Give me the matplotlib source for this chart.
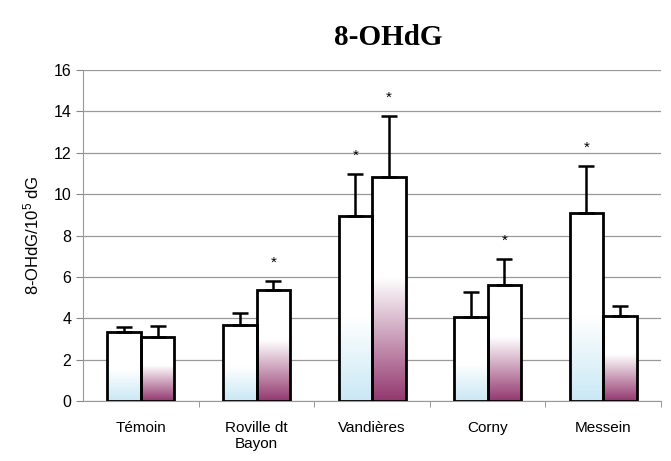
import matplotlib
matplotlib.use("Agg")
import matplotlib.pyplot as plt
import numpy as np
from matplotlib.colors import to_rgb

plt.rcParams["font.family"] = ["Liberation Sans", "DejaVu Sans"]
plt.rcParams["mathtext.fontset"] = "custom"
plt.rcParams["mathtext.rm"] = "Liberation Sans"
plt.rcParams["mathtext.it"] = "Liberation Sans"

sites = ["Témoin", "Roville dt\nBayon", "Vandières", "Corny", "Messein"]
serie_a = [3.35, 3.7, 8.95, 4.05, 9.1]
err_a = [0.25, 0.55, 2.05, 1.2, 2.25]
serie_b = [3.1, 5.35, 10.85, 5.6, 4.1]
err_b = [0.55, 0.45, 2.95, 1.25, 0.5]
signif_a = [False, False, True, False, True]
signif_b = [False, True, True, True, False]

fig = plt.figure(figsize=(6.71, 4.61), dpi=100)
ax = fig.add_axes([0.124, 0.130, 0.861, 0.718])

x = np.arange(len(sites))
w = 0.29


def barre_degrade(x0, h, couleur, frac):
    # fond en dégradé : couleur en bas, blanc vers le haut
    n = 200
    y = np.linspace(0, 1, n)
    t = np.clip(y / frac, 0, 1)[:, None]
    c = np.array(to_rgb(couleur))
    img = (1 - t) * c + t * np.ones(3)
    img = img[:, None, :]
    ax.imshow(img, extent=[x0, x0 + w, 0, h], origin="lower",
              aspect="auto", zorder=2, interpolation="bilinear")
    ax.bar(x0, h, width=w, align="edge", facecolor="none",
           edgecolor="black", linewidth=2, zorder=3)


for i in x:
    barre_degrade(i - w, serie_a[i], "#c9e8f5", 0.45)
    barre_degrade(i, serie_b[i], "#93386f", 0.55)

ax.errorbar(x - w / 2, serie_a, yerr=[np.zeros(5), err_a], fmt="none",
            ecolor="black", elinewidth=1.8, capsize=6, capthick=1.8, zorder=4)
ax.errorbar(x + w / 2, serie_b, yerr=[np.zeros(5), err_b], fmt="none",
            ecolor="black", elinewidth=1.8, capsize=6, capthick=1.8, zorder=4)

for i in x:
    if signif_a[i]:
        ax.annotate("*", (i - w / 2, serie_a[i] + err_a[i]), xytext=(0, 8),
                    textcoords="offset points", ha="center", va="bottom", fontsize=11)
    if signif_b[i]:
        ax.annotate("*", (i + w / 2, serie_b[i] + err_b[i]), xytext=(0, 8),
                    textcoords="offset points", ha="center", va="bottom", fontsize=11)

ax.set_xlim(-0.5, 4.5)
ax.set_ylim(0, 16)
ax.set_yticks(range(0, 17, 2))
ax.yaxis.grid(True, color="#999999", linewidth=0.9)
ax.set_axisbelow(True)
ax.set_xticks(x)
ax.set_xticklabels(sites, fontsize=11)
ax.set_xticks(np.arange(0.5, 5, 1), minor=True)
ax.tick_params(axis="x", which="major", length=0, pad=14)
ax.tick_params(axis="x", which="minor", length=4, color="#888888")
ax.tick_params(axis="y", length=5, color="#888888", labelsize=11.5)
for s in ["top", "right"]:
    ax.spines[s].set_visible(False)
for s in ["left", "bottom"]:
    ax.spines[s].set_color("#999999")

ax.set_ylabel("8-OHdG/10$^{5}$ dG", fontsize=12, labelpad=9)
fig.text(0.578, 0.918, "8-OHdG", ha="center", va="center",
         fontsize=21, fontweight="bold", family="Liberation Serif")

fig.savefig("out.png", dpi=100)
